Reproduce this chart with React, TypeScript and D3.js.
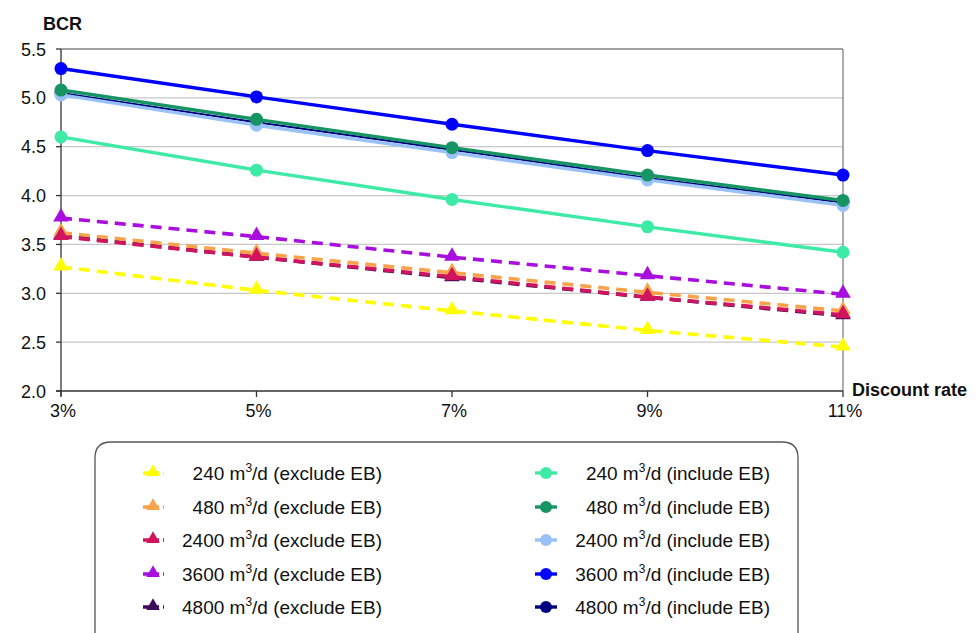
import React from "react";
import * as d3 from "d3";

const categories = ["3%", "5%", "7%", "9%", "11%"];
const yTicks = [2.0, 2.5, 3.0, 3.5, 4.0, 4.5, 5.0, 5.5];

const ex240 = [3.27, 3.03, 2.82, 2.62, 2.45];
const ex480 = [3.62, 3.41, 3.21, 3.01, 2.82];
const ex2400 = [3.58, 3.37, 3.17, 2.96, 2.78];
const ex3600 = [3.77, 3.58, 3.37, 3.18, 2.99];
const ex4800 = [3.59, 3.37, 3.16, 2.96, 2.77];
const in240 = [4.6, 4.26, 3.96, 3.68, 3.42];
const in480 = [5.08, 4.78, 4.49, 4.21, 3.95];
const in2400 = [5.03, 4.72, 4.44, 4.16, 3.9];
const in3600 = [5.3, 5.01, 4.73, 4.46, 4.21];
const in4800 = [5.05, 4.75, 4.47, 4.18, 3.93];

const seriesNames = ["240", "480", "2400", "3600", "4800"];
const exColors = ["#FFFF00", "#F9A24A", "#D2145E", "#A80EDD", "#3D0A5C"];
const inColors = ["#3EEBA6", "#169463", "#98C1F7", "#0000FF", "#000080"];
const exValues = [ex240, ex480, ex2400, ex3600, ex4800];
const inValues = [in240, in480, in2400, in3600, in4800];

const W = 980, H = 633;
const left = 61, right = 843, top = 49, bottom = 391;

export default function App() {
  const x = d3.scalePoint<string>().domain(categories).range([left, right]);
  const y = d3.scaleLinear().domain([2, 5.5]).range([bottom, top]);
  const line = d3
    .line<number>()
    .x((_, i) => x(categories[i]) as number)
    .y((d) => y(d));
  const tri = d3.symbol().type(d3.symbolTriangle).size(105)();
  const triL = d3.symbol().type(d3.symbolTriangle).size(80)();
  const font = "Liberation Sans, Arial, sans-serif";

  const order = [4, 0, 1, 2, 3];
  const inOrder = [4, 0, 2, 1, 3];

  const rowsY = [473, 507, 540, 574, 607];

  return (
    <svg
      width={W}
      height={H}
      style={{ position: "absolute", left: 0, top: 0, background: "#fff" }}
      fontFamily={font}
    >
      {yTicks.map((t) => (
        <line
          key={"g" + t}
          x1={left}
          x2={right}
          y1={y(t)}
          y2={y(t)}
          stroke={t === 5.5 ? "#808080" : t === 2 ? "none" : "#C8C8C8"}
          strokeWidth={1.3}
        />
      ))}
      <line x1={right} x2={right} y1={top} y2={bottom} stroke="#808080" strokeWidth={1.3} />
      <line x1={left} x2={left} y1={top} y2={bottom + 5} stroke="#333" strokeWidth={1.3} />
      <line x1={left - 5} x2={right} y1={bottom} y2={bottom} stroke="#333" strokeWidth={1.3} />
      {yTicks.map((t) => (
        <g key={"yt" + t}>
          <line x1={left - 5} x2={left} y1={y(t)} y2={y(t)} stroke="#333" strokeWidth={1.3} />
          <text x={left - 15} y={y(t) + 6.5} textAnchor="end" fontSize={18} fill="#111">
            {t.toFixed(1)}
          </text>
        </g>
      ))}
      {categories.map((c) => (
        <g key={"xt" + c}>
          <line x1={x(c)} x2={x(c)} y1={bottom} y2={bottom + 6} stroke="#333" strokeWidth={1.3} />
          <text x={(x(c) as number) + 2} y={bottom + 26} textAnchor="middle" fontSize={18} fill="#111">
            {c}
          </text>
        </g>
      ))}
      <text x={43} y={30} fontSize={18} fontWeight="bold" fill="#111">BCR</text>
      <text x={852} y={396} fontSize={18} fontWeight="bold" fill="#111">Discount rate</text>

      {order.map((i) => (
        <g key={"ex" + i}>
          <path d={line(exValues[i]) as string} fill="none" stroke={exColors[i]} strokeWidth={3.6} strokeDasharray="11,7" />
          {exValues[i].map((v, j) => (
            <path key={j} d={tri} transform={`translate(${x(categories[j])},${y(v) - 1})`} fill={exColors[i]} />
          ))}
        </g>
      ))}
      {inOrder.map((i) => (
        <g key={"in" + i}>
          <path d={line(inValues[i]) as string} fill="none" stroke={inColors[i]} strokeWidth={i === 4 ? 2 : 3.4} />
          {inValues[i].map((v, j) => (
            <circle key={j} cx={x(categories[j])} cy={y(v)} r={6.5} fill={inColors[i]} />
          ))}
        </g>
      ))}

      <path
        d={`M95,${H + 5} L95,458 Q95,442 111,442 L782,442 Q798,442 798,458 L798,${H + 5}`}
        fill="#fff"
        stroke="#555"
        strokeWidth={1.3}
      />
      {seriesNames.map((n, i) => (
        <g key={"lg" + i}>
          <line x1={143} x2={164} y1={rowsY[i]} y2={rowsY[i]} stroke={exColors[i]} strokeWidth={3.4} strokeDasharray="10,4,2,4" />
          <path d={triL} transform={`translate(153,${rowsY[i] - 1})`} fill={exColors[i]} />
          <text x={382} y={rowsY[i] + 7} textAnchor="end" fontSize={19} fill="#111">
            {n} m<tspan dy={-8} fontSize={12}>3</tspan>
            <tspan dy={8}>/d (exclude EB)</tspan>
          </text>
          <line x1={535} x2={557} y1={rowsY[i]} y2={rowsY[i]} stroke={inColors[i]} strokeWidth={3.4} />
          <circle cx={546} cy={rowsY[i]} r={6} fill={inColors[i]} />
          <text x={770} y={rowsY[i] + 7} textAnchor="end" fontSize={19} fill="#111">
            {n} m<tspan dy={-8} fontSize={12}>3</tspan>
            <tspan dy={8}>/d (include EB)</tspan>
          </text>
        </g>
      ))}
    </svg>
  );
}
